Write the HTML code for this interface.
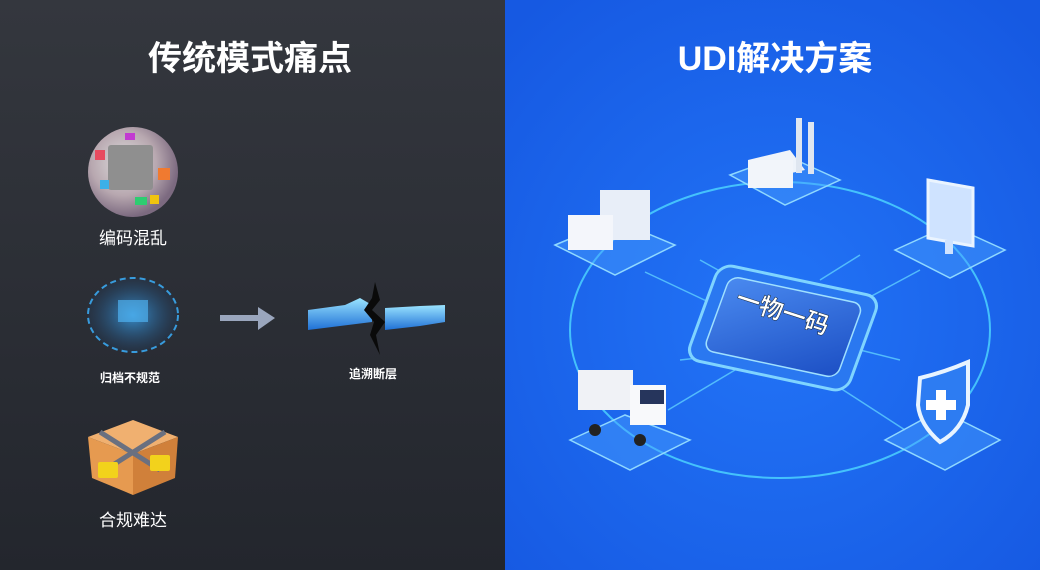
<!DOCTYPE html>
<html><head><meta charset="utf-8"><style>
html,body{margin:0;padding:0;width:1040px;height:570px;overflow:hidden;font-family:"Liberation Sans","Noto Sans CJK SC",sans-serif}
</style></head><body>
<svg width="1040" height="570" viewBox="0 0 1040 570" xmlns="http://www.w3.org/2000/svg" font-family="Liberation Sans, Noto Sans CJK SC, sans-serif">
<defs>
<linearGradient id="lg" x1="0" y1="0" x2="0" y2="1"><stop offset="0" stop-color="#34373e"/><stop offset="1" stop-color="#23262d"/></linearGradient>
<radialGradient id="rg" cx="0.5" cy="0.55" r="0.7"><stop offset="0" stop-color="#2274f7"/><stop offset="1" stop-color="#1659e2"/></radialGradient>
<radialGradient id="sph" cx="0.4" cy="0.4" r="0.6"><stop offset="0" stop-color="#ddd"/><stop offset="0.6" stop-color="#b8a8b0"/><stop offset="1" stop-color="#7c6a80"/></radialGradient>
<radialGradient id="cub" cx="0.5" cy="0.5" r="0.5"><stop offset="0" stop-color="#3a9be0"/><stop offset="1" stop-color="#1f3f66" stop-opacity="0.3"/></radialGradient>
<linearGradient id="chip" x1="0" y1="0" x2="1" y2="1"><stop offset="0" stop-color="#4a8af0"/><stop offset="1" stop-color="#1c4fc4"/></linearGradient>
<linearGradient id="crk" x1="0" y1="0" x2="0" y2="1"><stop offset="0" stop-color="#9ae4ff"/><stop offset="1" stop-color="#1f70d6"/></linearGradient>
</defs>
<rect x="0" y="0" width="505" height="570" fill="url(#lg)"/>
<rect x="505" y="0" width="535" height="570" fill="url(#rg)"/>
<text x="250" y="70" fill="#fff" font-size="34" font-weight="bold" text-anchor="middle">传统模式痛点</text>
<text x="775" y="70" fill="#fff" font-size="34" font-weight="bold" text-anchor="middle">UDI解决方案</text>
<circle cx="133" cy="172" r="45" fill="url(#sph)"/>
<rect x="108" y="145" width="45" height="45" fill="#8f8f8f" rx="3"/>
<rect x="95" y="150" width="10" height="10" fill="#e84a5f"/><rect x="158" y="168" width="12" height="12" fill="#f07a30"/><rect x="100" y="180" width="9" height="9" fill="#3bb0e8"/><rect x="135" y="197" width="12" height="8" fill="#2ecc71"/><rect x="125" y="133" width="10" height="7" fill="#c23ad1"/><rect x="150" y="195" width="9" height="9" fill="#f1c40f"/>
<text x="133" y="244" fill="#fff" font-size="17" text-anchor="middle">编码混乱</text>
<ellipse cx="133" cy="315" rx="45" ry="37" fill="url(#cub)" stroke="#3aa8f0" stroke-width="2" stroke-dasharray="6 4" opacity="0.9"/>
<rect x="118" y="300" width="30" height="22" fill="#4fb0f0" opacity="0.7"/>
<text x="130" y="382" fill="#fff" font-size="12" font-weight="bold" text-anchor="middle">归档不规范</text>
<rect x="220" y="315" width="38" height="6" fill="#9aa6bd"/>
<polygon points="258,307 275,318 258,330" fill="#9aa6bd"/>
<polygon points="308,310 345,305 360,298 372,305 372,322 340,326 308,330" fill="url(#crk)"/>
<polygon points="385,308 420,306 445,305 445,322 420,326 385,330" fill="url(#crk)"/>
<polygon points="375,282 380,300 372,310 385,322 376,335 380,355 370,335 374,322 364,310 372,298" fill="#0a0a0a"/>
<text x="373" y="378" fill="#fff" font-size="12" font-weight="bold" text-anchor="middle">追溯断层</text>
<polygon points="133,420 178,437 133,454 88,437" fill="#f0b070"/>
<polygon points="88,437 133,454 133,495 92,478" fill="#e69a50"/>
<polygon points="133,454 178,437 175,478 133,495" fill="#d0803a"/>
<path d="M100,432 L160,470 M165,432 L105,470" stroke="#6a7080" stroke-width="5"/>
<rect x="98" y="462" width="20" height="16" fill="#f2d21c" rx="2"/><rect x="150" y="455" width="20" height="16" fill="#f2d21c" rx="2"/>
<text x="133" y="526" fill="#fff" font-size="17" text-anchor="middle">合规难达</text>
<ellipse cx="780" cy="330" rx="210" ry="148" fill="none" stroke="#4fd8ff" stroke-width="2" opacity="0.8"/>
<g stroke="#5fd0ff" stroke-width="1.5" opacity="0.8">
<line x1="645" y1="272" x2="715" y2="305"/><line x1="920" y1="270" x2="855" y2="305"/>
<line x1="668" y1="410" x2="735" y2="370"/><line x1="905" y1="430" x2="820" y2="375"/>
<line x1="700" y1="260" x2="745" y2="285"/><line x1="860" y1="255" x2="820" y2="280"/>
<line x1="680" y1="360" x2="725" y2="355"/><line x1="900" y1="360" x2="860" y2="350"/>
</g>
<g transform="translate(783,328) rotate(12) skewX(-8)">
<rect x="-82" y="-50" width="164" height="100" rx="14" fill="#2a78f0" stroke="#7fd4ff" stroke-width="3"/>
<rect x="-68" y="-40" width="136" height="78" rx="10" fill="url(#chip)" stroke="#9fe0ff" stroke-width="1.5"/>
</g>
<text x="780" y="320" fill="#fff" font-size="24" font-weight="bold" text-anchor="middle" transform="rotate(18 780 320)" stroke="#123" stroke-width="0.5">一物一码</text>
<g fill="#4aa0ff" fill-opacity="0.45" stroke="#8fd8ff" stroke-width="1.5">
<polygon points="730,175 785,155 840,180 785,205"/>
<polygon points="555,245 615,220 675,245 615,275"/>
<polygon points="895,250 950,225 1005,250 950,278"/>
<polygon points="570,440 625,415 690,440 630,470"/>
<polygon points="885,440 940,410 1000,440 945,470"/>
</g>
<polygon points="748,160 790,150 805,170 760,180" fill="#eef3fa"/>
<rect x="748" y="160" width="45" height="28" fill="#f2f5fa"/>
<rect x="796" y="118" width="6" height="55" fill="#dfe6f0"/><rect x="808" y="122" width="6" height="52" fill="#dfe6f0"/>
<rect x="600" y="190" width="50" height="50" fill="#e8eef8"/>
<rect x="568" y="215" width="45" height="35" fill="#f4f6fb"/>
<polygon points="928,180 973,188 973,246 928,238" fill="#cfe3ff" stroke="#eaf4ff" stroke-width="3"/>
<rect x="945" y="240" width="8" height="14" fill="#cfe3ff"/>
<rect x="578" y="370" width="55" height="40" fill="#f0f2f6"/>
<rect x="630" y="385" width="36" height="40" fill="#f8f9fb"/>
<rect x="640" y="390" width="24" height="14" fill="#26355c"/>
<circle cx="595" cy="430" r="6" fill="#222"/><circle cx="640" cy="440" r="6" fill="#222"/>
<path d="M920,378 Q945,372 968,362 L968,405 Q962,430 940,442 Q920,425 918,405 Z" fill="#2d7cf2" stroke="#e8f4ff" stroke-width="4"/>
<rect x="936" y="390" width="10" height="30" fill="#fff"/><rect x="926" y="400" width="30" height="10" fill="#fff"/>
</svg>
</body></html>
